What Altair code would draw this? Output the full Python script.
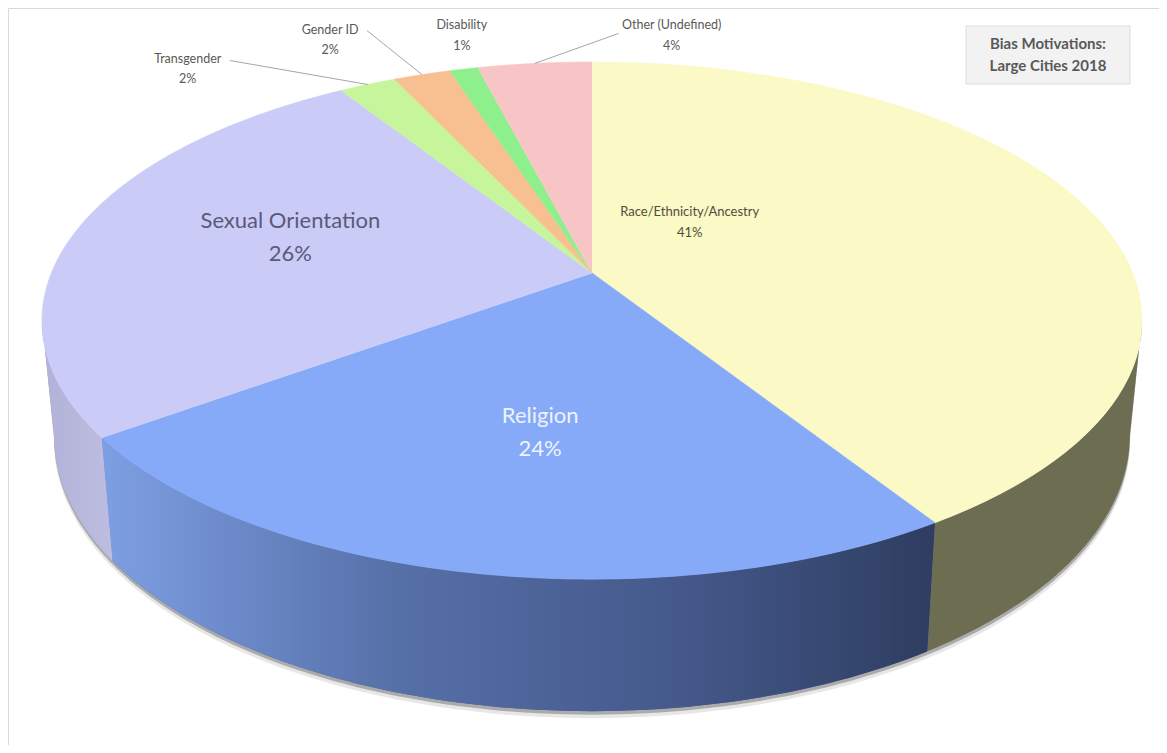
import math
import altair as alt
import pandas as pd

# ---------------- data ----------------
categories = ["Race/Ethnicity/Ancestry", "Religion", "Sexual Orientation",
              "Transgender", "Gender ID", "Disability", "Other (Undefined)"]
percents = [41, 24, 26, 2, 2, 1, 4]
title_lines = ["Bias Motivations:", "Large Cities 2018"]

# ---------------- styles ----------------
top_colors = ["#FBF9C6", "#86AAF7", "#CBCBF8", "#C6F59C", "#F8BF90", "#8EF08C", "#F8C5C6"]
side_colors = ["#6D6D52", "#4E6496", "#B4B4DA", "#9DC47C", "#C69873", "#71C070", "#C69D9E"]

df = pd.DataFrame({"cat": categories, "pct": percents, "idx": list(range(len(categories)))})

# perspective geometry (pixels)
W, H = 1151, 737
K = 0.184          # perspective factor
P = 540.6          # horizontal radius factor
Q = 249.8          # vertical radius factor
X0, Y0 = 584.0, 265.0   # apex in chart coords
D0, D1 = 110.0, 22.0    # side depth (px) = D0 - D1*cos(angle)
SB = 0.978              # bottom rim horizontal shrink
N = 72
TH1 = math.acos(-K)
TH2 = 2 * math.pi - TH1

xdom = [-X0 / P, (W - X0) / P]
ydom = [(Y0 - H) / Q, Y0 / Q]
xenc = alt.X("u:Q", scale=alt.Scale(domain=xdom, nice=False, zero=False), axis=None)
yenc = alt.Y("w:Q", scale=alt.Scale(domain=ydom, nice=False, zero=False), axis=None)
x2enc = alt.X2("u2:Q")
y2enc = alt.Y2("w2:Q")

base = alt.Chart(df).transform_window(
    cum="sum(pct)", sort=[alt.SortField("idx", order="ascending")], frame=[None, 0]
).transform_joinaggregate(total="sum(pct)").transform_calculate(
    a1="2*PI*(datum.cum - datum.pct)/datum.total",
    a2="2*PI*datum.cum/datum.total",
)

# ---- top faces ----
top = base.transform_calculate(s=f"sequence(-1, {N + 1})").transform_flatten(["s"]).transform_calculate(
    ang=f"datum.a1 + (datum.a2 - datum.a1) * max(datum.s, 0) / {N}",
    rr="datum.s < 0 ? 0 : 1",
    den=f"1 + {K} * datum.rr * cos(datum.ang)",
    u="datum.rr * sin(datum.ang) / datum.den",
    w="datum.rr * cos(datum.ang) / datum.den",
).mark_line(filled=True, strokeWidth=0.7, interpolate="linear", clip=False).encode(
    x=xenc, y=yenc, order=alt.Order("s:Q"), detail="cat:N",
    color=alt.Color("cat:N", scale=alt.Scale(domain=categories, range=top_colors), legend=None),
    stroke=alt.Stroke("cat:N", scale=alt.Scale(domain=categories, range=top_colors), legend=None),
)


def side_layer(extra_px):
    return base.transform_calculate(
        b1=f"max(datum.a1, {TH1})", b2=f"min(datum.a2, {TH2})"
    ).transform_filter("datum.b2 > datum.b1").transform_calculate(
        s=f"sequence(0, {2 * N + 2})"
    ).transform_flatten(["s"]).transform_calculate(
        bot=f"datum.s > {N} ? 1 : 0",
        t=f"datum.s > {N} ? ({2 * N + 1} - datum.s) / {N} : datum.s / {N}",
        ang="datum.b1 + (datum.b2 - datum.b1) * datum.t",
        den=f"1 + {K} * cos(datum.ang)",
        u=f"sin(datum.ang) / datum.den * (datum.bot ? {SB} : 1)",
        w=f"cos(datum.ang) / datum.den - datum.bot * ({D0 + extra_px} - {D1} * cos(datum.ang)) / {Q}",
    )


shadow = side_layer(7).mark_line(filled=True, fill="#B0B0B0", opacity=0.3, strokeWidth=0, clip=False).encode(
    x=xenc, y=yenc, order=alt.Order("s:Q"), detail="cat:N")
shadow2 = side_layer(3.5).mark_line(filled=True, fill="#707070", opacity=0.5, strokeWidth=0, clip=False).encode(
    x=xenc, y=yenc, order=alt.Order("s:Q"), detail="cat:N")

sides = side_layer(0).mark_line(filled=True, strokeWidth=0, clip=False).encode(
    x=xenc, y=yenc, order=alt.Order("s:Q"), detail="cat:N",
    fill=alt.Fill("cat:N", scale=alt.Scale(domain=categories, range=side_colors), legend=None),
)

blue_grad = alt.LinearGradient(
    gradient="linear", x1=0, x2=1, y1=0, y2=0,
    stops=[alt.GradientStop(color="#7E9FE4", offset=0),
           alt.GradientStop(color="#5670A8", offset=0.35),
           alt.GradientStop(color="#44588A", offset=0.7),
           alt.GradientStop(color="#2E3D60", offset=1)])
lav_grad = alt.LinearGradient(
    gradient="linear", x1=0, x2=1, y1=0, y2=0,
    stops=[alt.GradientStop(color="#B2B2D8", offset=0),
           alt.GradientStop(color="#BDBDE2", offset=1)])

side_rel = side_layer(0).transform_filter(f"datum.cat == '{categories[1]}'").mark_line(
    filled=True, fill=blue_grad, strokeWidth=0, clip=False).encode(
    x=xenc, y=yenc, order=alt.Order("s:Q"), detail="cat:N")
side_lav = side_layer(0).transform_filter(f"datum.cat == '{categories[2]}'").mark_line(
    filled=True, fill=lav_grad, strokeWidth=0, clip=False).encode(
    x=xenc, y=yenc, order=alt.Order("s:Q"), detail="cat:N")

# ---- labels ----
lab_base = base.transform_calculate(
    am="(datum.a1 + datum.a2) / 2",
    rr="datum.pct >= 10 ? 0.55 : 1",
    den=f"1 + {K} * datum.rr * cos(datum.am)",
    u="datum.rr * sin(datum.am) / datum.den",
    w="datum.rr * cos(datum.am) / datum.den",
    txt="datum.cat + '\\n' + datum.pct + '%'",
)

# (dx, dy, size, color, line height) per label
label_style = {
    categories[0]: (-180, -24, 13, "#4E4E3C", 21),
    categories[1]: (10, -7, 22, "#EEF3FF", 33),
    categories[2]: (-15, -27, 22, "#5A5A78", 33),
    categories[3]: (-180, -25, 12.5, "#595959", 20),
    categories[4]: (-92, -45, 12.5, "#595959", 20),
    categories[5]: (-2, -44, 12.5, "#595959", 21),
    categories[6]: (137, -38, 12.5, "#595959", 21),
}
label_layers = []
for c, (dx, dy, fs, col, lh) in label_style.items():
    label_layers.append(
        lab_base.transform_filter(f"datum.cat == '{c}'").mark_text(
            dx=dx, dy=dy, fontSize=fs, color=col, font="Lato", lineBreak="\n",
            align="center", baseline="middle", lineHeight=lh
        ).encode(x=xenc, y=yenc, text="txt:N")
    )

# leader lines: offset of label end from rim point (px)
leader_off = {categories[3]: (-138, -24), categories[4]: (-55, -44), categories[6]: (84, -30)}
dx_expr = " : ".join([f"datum.cat == '{c}' ? {v[0]}" for c, v in leader_off.items()]) + " : 0"
dy_expr = " : ".join([f"datum.cat == '{c}' ? {v[1]}" for c, v in leader_off.items()]) + " : 0"
leaders = lab_base.transform_filter(
    " || ".join([f"datum.cat == '{c}'" for c in leader_off])
).transform_calculate(
    u2=f"datum.u + ({dx_expr}) / {P}",
    w2=f"datum.w - ({dy_expr}) / {Q}",
).mark_rule(color="#A6A6A6", strokeWidth=1).encode(x=xenc, y=yenc, x2=x2enc, y2=y2enc)

# ---- title box ----
tdf = pd.DataFrame({"t": ["\n".join(title_lines)]})
title_box = alt.Chart(tdf).mark_rect(fill="#F2F2F2", stroke="#DDDDDD", strokeWidth=1).encode(
    x=alt.value(958), x2=alt.value(1122), y=alt.value(18), y2=alt.value(76))
title_text = alt.Chart(tdf).mark_text(
    font="Lato", fontSize=15, fontWeight="bold", color="#595959", lineBreak="\n",
    align="center", baseline="middle", lineHeight=22
).encode(x=alt.value(1040), y=alt.value(36), text="t:N")

chart = alt.layer(
    shadow, shadow2, sides, side_rel, side_lav, top, leaders, *label_layers, title_box, title_text
).resolve_scale(
    stroke="independent", fill="independent", color="independent"
).properties(
    width=W, height=H, padding=0, autosize="none"
).configure_view(stroke="#D9D9D9", strokeWidth=1)

chart.save("out.html", embed_options={"renderer": "svg", "actions": False})
